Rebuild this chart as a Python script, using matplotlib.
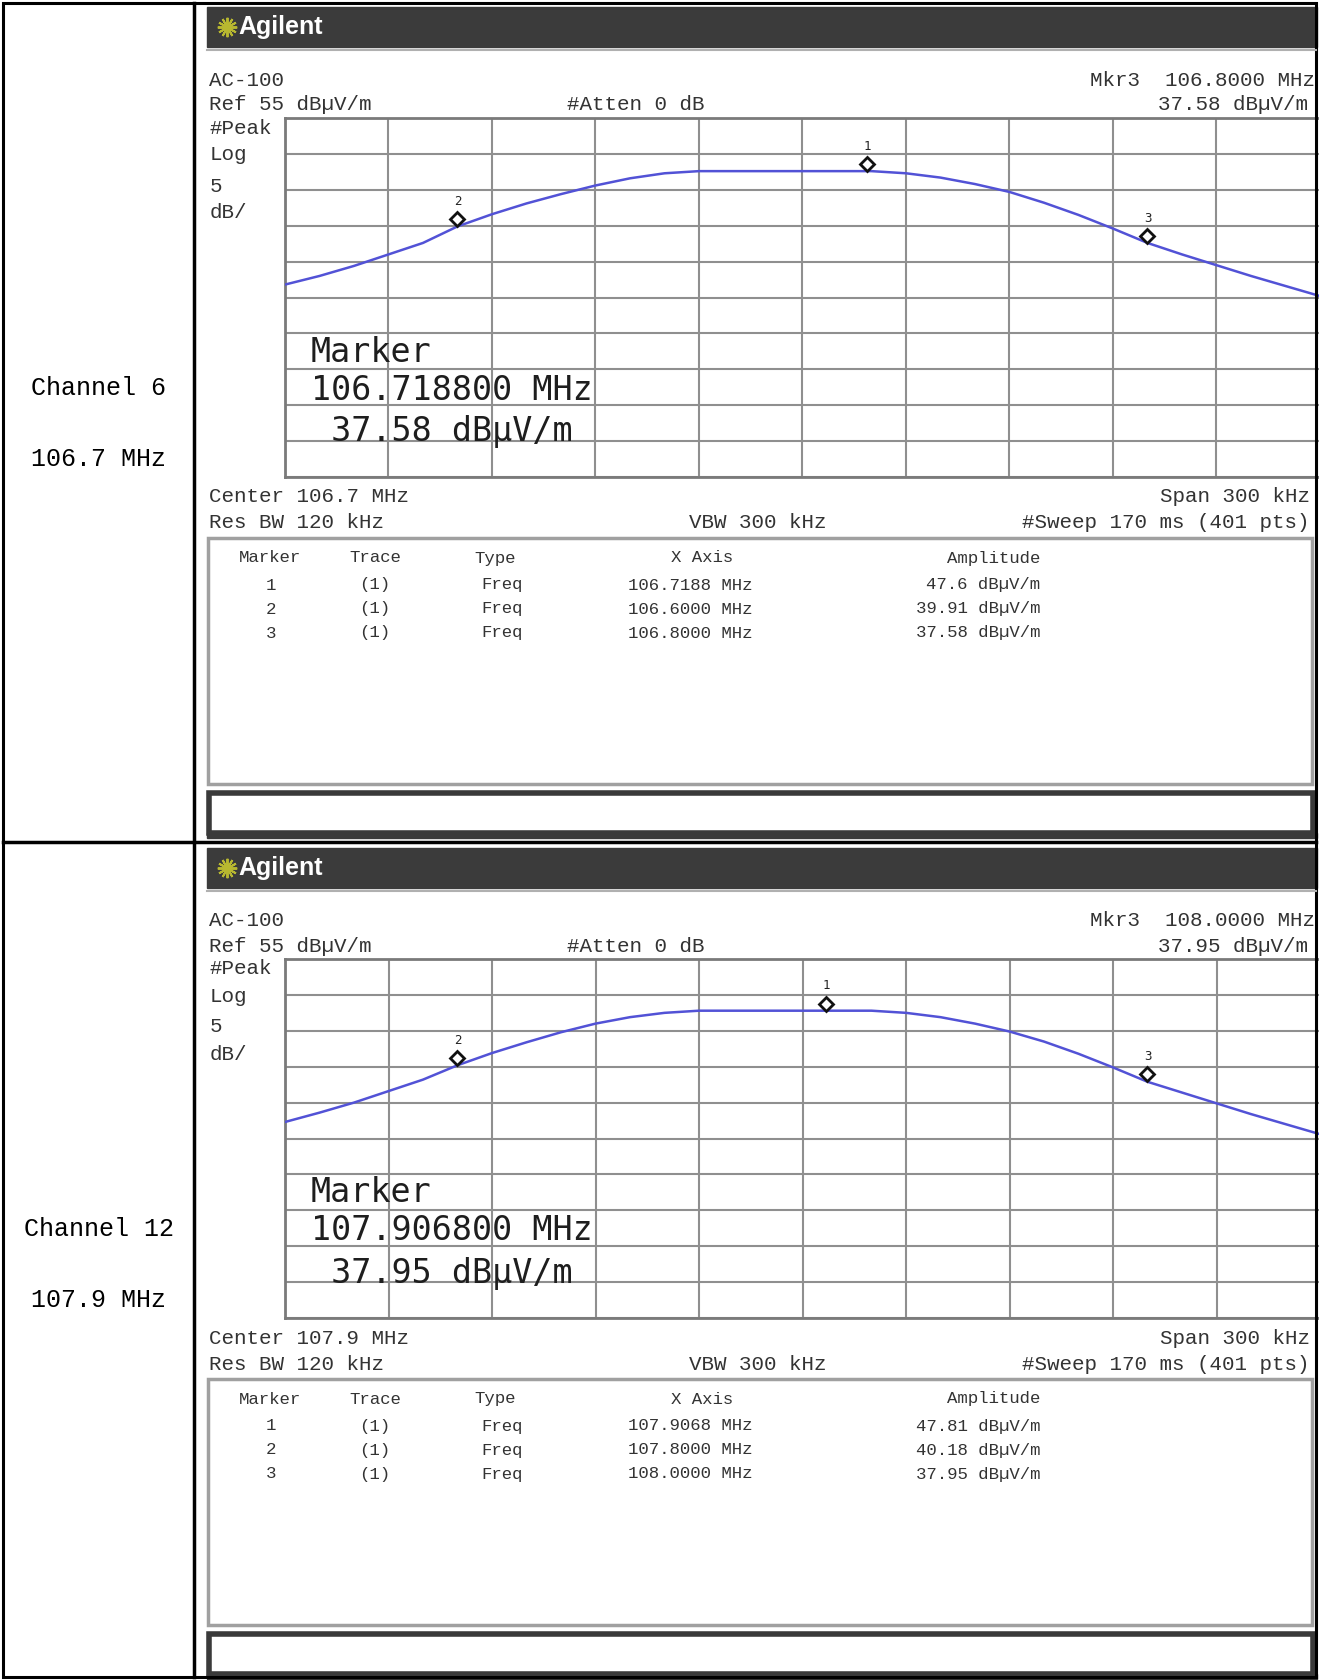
""" Agilent spectrum screenshots, channel 6 and channel 12 """

import numpy as np
import matplotlib.pyplot as plt
from matplotlib.patches import Rectangle
from matplotlib.transforms import offset_copy

W, H = 1319, 1680

# ---------------- data ----------------
offset_khz = [0, 10, 20, 30, 40, 50, 60, 70, 80, 90, 100, 110, 120, 130, 140, 150,
              160, 170, 180, 190, 200, 210, 220, 230, 240, 250, 260, 270, 280, 290, 300]

ch6_trace = [31.8, 33.0, 34.4, 36.0, 37.6, 39.9, 41.6, 43.1, 44.4, 45.6, 46.6, 47.3,
             47.6, 47.6, 47.6, 47.6, 47.6, 47.6, 47.3, 46.7, 45.8, 44.7, 43.2, 41.5,
             39.6, 37.6, 36.0, 34.5, 33.0, 31.6, 30.2]
ch12_trace = [32.3, 33.6, 35.0, 36.6, 38.2, 40.2, 41.9, 43.4, 44.8, 46.0, 46.9, 47.5,
              47.8, 47.8, 47.8, 47.8, 47.8, 47.8, 47.5, 46.9, 46.0, 44.9, 43.5, 41.8,
              39.9, 37.9, 36.4, 34.9, 33.4, 32.0, 30.6]

ch6_marker_freq = [106.7188, 106.6000, 106.8000]
ch6_marker_amp = [47.6, 39.91, 37.58]
ch12_marker_freq = [107.9068, 107.8000, 108.0000]
ch12_marker_amp = [47.81, 40.18, 37.95]

channel_names = ["Channel 6", "Channel 12"]
center_mhz = [106.7, 107.9]

MONO = "Liberation Mono"
TXT = "#333333"

fig = plt.figure(figsize=(W / 100, H / 100), dpi=100)
fig.patch.set_facecolor("white")
top = fig.add_axes([0, 0, 1, 1], zorder=5)
top.set_xlim(0, W)
top.set_ylim(H, 0)
top.axis("off")
top.patch.set_alpha(0)


def small(x, y, s, ha="left", size=15):
    top.text(x, y, s, ha=ha, va="center", fontsize=size, family=MONO, color=TXT)


def draw_panel(y0, center, trace, mk_freq, mk_amp, name):
    # title bar
    top.add_patch(Rectangle((207, y0 + 7), 1110, 40, color="#3b3b3b", zorder=1))
    top.plot([207, 1316], [y0 + 50, y0 + 50], color="#b0b0b0", lw=1.5)
    top.plot(227, y0 + 27, marker=(12, 2, 0), ms=14, mew=1.4, color="#b8b830")
    top.text(238, y0 + 27, "Agilent", ha="left", va="center", fontsize=18,
             weight="bold", family="Liberation Sans", color="white")

    # header
    small(209, y0 + 80, "AC-100")
    small(209, y0 + 105, "Ref 55 dB\u00b5V/m")
    small(567, y0 + 105, "#Atten 0 dB")
    small(1315, y0 + 80, f"Mkr3  {mk_freq[2]:.4f} MHz", ha="right")
    small(1308, y0 + 105, f"{mk_amp[2]:g} dB\u00b5V/m", ha="right")
    for yy, s in zip([128, 155, 186, 213], ["#Peak", "Log", "5", "dB/"]):
        small(210, y0 + yy, s)

    # graticule
    gx0, gx1 = 285, 1320
    gy0, gy1 = y0 + 118, y0 + 477
    ax = fig.add_axes([gx0 / W, 1 - gy1 / H, (gx1 - gx0) / W, (gy1 - gy0) / H], zorder=2)
    freqs = [center - 0.15 + k / 1000 for k in offset_khz]
    ax.plot(freqs, trace, color="#5252d6", lw=1.8, zorder=3)
    ax.set_xlim(center - 0.15, center + 0.15)
    ax.set_ylim(5, 55)
    ax.set_xticks(np.linspace(center - 0.15, center + 0.15, 11))
    ax.set_yticks(np.arange(5, 56, 5))
    ax.set_axisbelow(True)
    ax.grid(True, color="#8f8f8f", lw=1.5)
    ax.tick_params(length=0, labelbottom=False, labelleft=False)
    for sp in ax.spines.values():
        sp.set_color("#7a7a7a")
        sp.set_linewidth(2)

    up = offset_copy(ax.transData, fig=fig, x=0, y=7, units="dots")
    ax.plot(mk_freq, mk_amp, "D", ms=7.5, mfc="white", mec="#111111", mew=2,
            transform=up, zorder=4)
    for i, (fq, a) in enumerate(zip(mk_freq, mk_amp)):
        ax.annotate(str(i + 1), (fq, a), xytext=(0, 25), textcoords="offset pixels",
                    ha="center", va="center", fontsize=9, family="DejaVu Sans Mono",
                    color="#222222")

    # big marker readout
    big = dict(ha="left", va="center", fontsize=24, family="DejaVu Sans Mono", color="#1e1e1e")
    top.text(311, y0 + 352, "Marker", **big)
    top.text(311, y0 + 390, f"{mk_freq[0]:.6f} MHz", **big)
    top.text(311, y0 + 432, f" {mk_amp[2]:g} dB\u00b5V/m", **big)

    # footer
    small(209, y0 + 497, f"Center {center:g} MHz")
    small(1310, y0 + 497, "Span 300 kHz", ha="right")
    small(209, y0 + 523, "Res BW 120 kHz")
    small(689, y0 + 523, "VBW 300 kHz")
    small(1310, y0 + 523, "#Sweep 170 ms (401 pts)", ha="right")

    # marker table
    top.add_patch(Rectangle((208, y0 + 538), 1104, 246, fill=False, ec="#a0a0a0", lw=2.5))
    tsz = 12.5
    top.text(270, y0 + 558, "Marker", ha="center", va="center", fontsize=tsz, family=MONO, color=TXT)
    top.text(375, y0 + 558, "Trace", ha="center", va="center", fontsize=tsz, family=MONO, color=TXT)
    top.text(474, y0 + 558, "Type", ha="left", va="center", fontsize=tsz, family=MONO, color=TXT)
    top.text(702, y0 + 558, "X Axis", ha="center", va="center", fontsize=tsz, family=MONO, color=TXT)
    top.text(1040, y0 + 558, "Amplitude", ha="right", va="center", fontsize=tsz, family=MONO, color=TXT)
    for i, (fq, a) in enumerate(zip(mk_freq, mk_amp)):
        yy = y0 + 585 + i * 24
        top.text(271, yy, str(i + 1), ha="center", va="center", fontsize=tsz, family=MONO, color=TXT)
        top.text(375, yy, "(1)", ha="center", va="center", fontsize=tsz, family=MONO, color=TXT)
        top.text(481, yy, "Freq", ha="left", va="center", fontsize=tsz, family=MONO, color=TXT)
        top.text(690, yy, f"{fq:.4f} MHz", ha="center", va="center", fontsize=tsz, family=MONO, color=TXT)
        top.text(1040, yy, f"{a:g} dB\u00b5V/m", ha="right", va="center", fontsize=tsz, family=MONO, color=TXT)

    # empty status box
    top.add_patch(Rectangle((209, y0 + 793), 1104, 40, fc="white", ec="#3a3a3a", lw=4))
    top.add_patch(Rectangle((207, y0 + 833), 1110, 5, color="#3a3a3a"))

    # left column labels
    top.text(98.5, y0 + 388, name, ha="center", va="center", fontsize=18, family=MONO, color="black")
    top.text(98.5, y0 + 459, f"{center:g} MHz", ha="center", va="center", fontsize=18,
             family=MONO, color="black")


draw_panel(0, center_mhz[0], ch6_trace, ch6_marker_freq, ch6_marker_amp, channel_names[0])
draw_panel(841, center_mhz[1], ch12_trace, ch12_marker_freq, ch12_marker_amp, channel_names[1])

# table borders
top.add_patch(Rectangle((3, 3), 1313, 1674, fill=False, ec="black", lw=2.2))
top.plot([194, 194], [3, 1677], color="black", lw=2.5)
top.plot([3, 1316], [842, 842], color="black", lw=2.5)

fig.savefig("out.png", dpi=100, facecolor="white")
